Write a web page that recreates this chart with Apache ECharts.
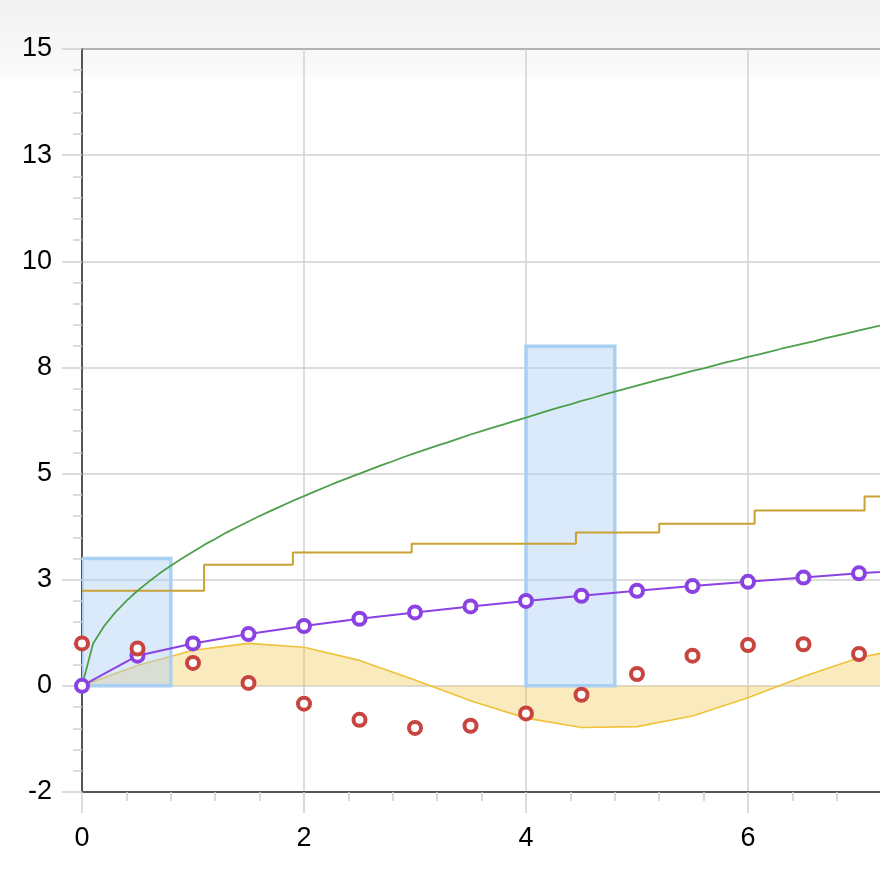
<!DOCTYPE html>
<html>
<head>
<meta charset="utf-8">
<script src="https://cdn.jsdelivr.net/npm/echarts@6/dist/echarts.min.js"></script>
<style>
html,body{margin:0;padding:0;background:#fff;}
#chart{width:880px;height:880px;}
</style>
</head>
<body>
<div id="chart"></div>
<script>
// ---- data ----
const halfStepX = [0,0.5,1,1.5,2,2.5,3,3.5,4,4.5,5,5.5,6,6.5,7,7.5,8];
const purpleY = [0,0.71,1.0,1.22,1.41,1.58,1.73,1.87,2.0,2.12,2.24,2.35,2.45,2.55,2.65,2.74,2.83];
const redY = [1.0,0.88,0.54,0.07,-0.42,-0.8,-0.99,-0.94,-0.65,-0.21,0.28,0.71,0.96,0.98,0.75,0.35,-0.15];
const yellowY = [0,0.48,0.84,1.0,0.91,0.6,0.14,-0.35,-0.76,-0.98,-0.96,-0.71,-0.28,0.22,0.66,0.94,0.99];

const greenX = [0,0.1,0.2,0.3,0.4,0.5,0.6,0.7,0.8,0.9,1.0,1.1,1.2,1.3,1.4,1.5,1.6,1.7,1.8,1.9,2.0,2.1,2.2,2.3,2.4,2.5,2.6,2.7,2.8,2.9,3.0,3.1,3.2,3.3,3.4,3.5,3.6,3.7,3.8,3.9,4.0,4.1,4.2,4.3,4.4,4.5,4.6,4.7,4.8,4.9,5.0,5.1,5.2,5.3,5.4,5.5,5.6,5.7,5.8,5.9,6.0,6.1,6.2,6.3,6.4,6.5,6.6,6.7,6.8,6.9,7.0,7.1,7.2,7.3];
const greenY = [0,1.0,1.41,1.73,2.0,2.24,2.45,2.65,2.83,3.0,3.16,3.32,3.46,3.61,3.74,3.87,4.0,4.12,4.24,4.36,4.47,4.58,4.69,4.8,4.9,5.0,5.1,5.2,5.29,5.39,5.48,5.57,5.66,5.74,5.83,5.92,6.0,6.08,6.16,6.24,6.32,6.4,6.48,6.56,6.63,6.71,6.78,6.86,6.93,7.0,7.07,7.14,7.21,7.28,7.35,7.42,7.48,7.55,7.62,7.68,7.75,7.81,7.87,7.94,8.0,8.06,8.12,8.19,8.25,8.31,8.37,8.43,8.49,8.54];

const stepX = [0,1.1,1.9,2.97,4.45,5.2,6.06,7.05,8];
const stepY = [2.24,2.85,3.14,3.35,3.61,3.82,4.13,4.46,4.46];

const barX = [0,4];
const barY = [3,8];

const xTicks = [0,2,4,6,8];
const yTicks = [-2.5,0,2.5,5,7.5,10,12.5,15];

// ---- helpers ----
const zip = (xs, ys) => xs.map((x,i)=>[x, ys[i]]);
const BAR_SPAN = 0.8;
const FONT = '"Liberation Sans", Arial, Helvetica, sans-serif';

const chart = echarts.init(document.getElementById('chart'), null, {renderer:'canvas'});

const option = {
  animation:false,
  backgroundColor:{type:'linear',x:0,y:0,x2:0,y2:1,colorStops:[
    {offset:0,color:'#f2f2f2'},{offset:0.085,color:'#fafafa'},{offset:0.093,color:'#ffffff'},{offset:1,color:'#ffffff'}]},
  grid:{left:82, top:49, width:888, height:743, show:true, borderColor:'#555', borderWidth:2,
        backgroundColor:'transparent', containLabel:false, outerBoundsMode:'none'},
  xAxis:{
    type:'value', min:xTicks[0], max:xTicks[xTicks.length-1], interval:2,
    axisLine:{show:true, onZero:false, lineStyle:{color:'#555', width:2}},
    axisTick:{show:true, length:21, lineStyle:{color:'#cfcfcf', width:1.5}},
    minorTick:{show:true, splitNumber:5, length:9, lineStyle:{color:'#cfcfcf', width:1.5}},
    splitLine:{show:true, lineStyle:{color:'#d2d2d2', width:1.5}},
    axisLabel:{color:'#000', fontSize:27, fontFamily:FONT, margin:33}
  },
  yAxis:{
    type:'value', min:yTicks[0], max:yTicks[yTicks.length-1], interval:2.5,
    axisLine:{show:true, onZero:false, lineStyle:{color:'#555', width:2}},
    axisTick:{show:true, length:20, lineStyle:{color:'#cfcfcf', width:1.5}},
    minorTick:{show:true, splitNumber:5, length:9, lineStyle:{color:'#cfcfcf', width:1.5}},
    splitLine:{show:true, lineStyle:{color:'#d2d2d2', width:1.5}},
    axisLabel:{color:'#000', fontSize:27, fontFamily:FONT, margin:30,
      formatter:v=>String(Math.round(v))}
  },
  series:[
    {
      name:'area', type:'line', data:zip(halfStepX, yellowY), showSymbol:false, symbol:'none',
      lineStyle:{color:'#efc23a', width:1.6},
      areaStyle:{color:'rgba(240,195,60,0.48)', origin:0},
      z:1
    },
    {
      name:'bars', type:'custom', data:zip(barX, barY), clip:true, z:2,
      renderItem:(params, api)=>{
        const x0 = api.value(0), h = api.value(1);
        const p0 = api.coord([x0, 0]);
        const p1 = api.coord([x0 + BAR_SPAN, h]);
        return {
          type:'rect',
          shape:{x:p0[0], y:p1[1], width:p1[0]-p0[0], height:p0[1]-p1[1]},
          style:{fill:'rgba(170,205,245,0.42)', stroke:'#a9d0f3', lineWidth:3.5}
        };
      }
    },
    {
      name:'step', type:'line', step:'end', data:zip(stepX, stepY), symbol:'none',
      lineStyle:{color:'#c9a235', width:2}, z:3
    },
    {
      name:'green', type:'line', data:zip(greenX, greenY), symbol:'none',
      lineStyle:{color:'#4ca04a', width:1.8}, z:3
    },
    {
      name:'purple', type:'line', data:zip(halfStepX, purpleY), symbol:'circle', symbolSize:12, showAllSymbol:true,
      lineStyle:{color:'#8a42e2', width:2},
      itemStyle:{color:'#fff', borderColor:'#8a42e2', borderWidth:4}, z:4
    },
    {
      name:'red', type:'scatter', data:zip(halfStepX, redY), symbol:'circle', symbolSize:12,
      itemStyle:{color:'#fff', borderColor:'#c8453f', borderWidth:4, opacity:1}, z:5
    }
  ]
};
chart.setOption(option);
</script>
</body>
</html>
